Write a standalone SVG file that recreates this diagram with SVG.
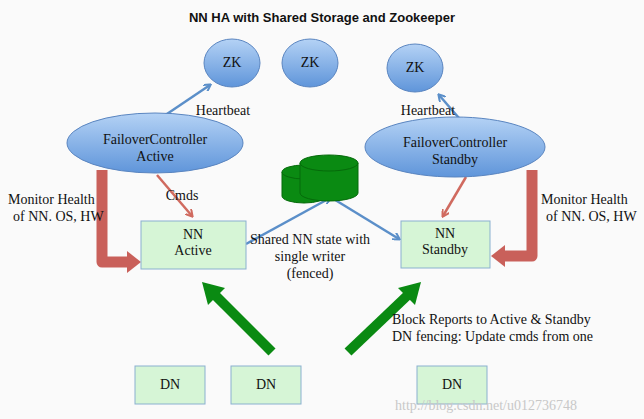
<svg xmlns="http://www.w3.org/2000/svg" width="644" height="419" viewBox="0 0 644 419">
<defs>
<style>
text{font-family:"Liberation Serif","DejaVu Serif",serif;font-size:14px;fill:#111}
.c{text-anchor:middle}
.ell{stroke:#5a85c0;stroke-width:1}
.box{fill:#d6f5d6;stroke:#8ab0cf;stroke-width:1}
.blue{stroke:#5b8fc9;stroke-width:2.5;fill:none}
.red{stroke:#d06a5f;stroke-width:2.5;fill:none}
.thick{stroke:#c9605a;stroke-width:11;fill:none;stroke-linejoin:round}
.green{stroke:#0a8a12;stroke-width:10;fill:none}
</style>
<linearGradient id="g" x1="0" y1="0" x2="0" y2="1"><stop offset="0" stop-color="#b4d2f5"/><stop offset="1" stop-color="#5f95da"/></linearGradient>
<marker id="ab" markerWidth="8" markerHeight="8" refX="6" refY="4" orient="auto" markerUnits="userSpaceOnUse"><path d="M0,0 L7,4 L0,8" fill="none" stroke="#5b8fc9" stroke-width="2"/></marker>
<marker id="ar" markerWidth="8" markerHeight="8" refX="6" refY="4" orient="auto" markerUnits="userSpaceOnUse"><path d="M0,0 L7,4 L0,8" fill="none" stroke="#d06a5f" stroke-width="2"/></marker>
</defs>
<rect width="644" height="419" fill="#fafafa"/>
<text x="322" y="22" class="c" style="font-family:'Liberation Sans',sans-serif;font-weight:bold;font-size:13px">NN HA with Shared Storage and Zookeeper</text>
<g id="connectors">
<line class="blue" x1="158" y1="120" x2="210" y2="85" marker-end="url(#ab)"/>
<line class="blue" x1="465" y1="125" x2="439" y2="95" marker-end="url(#ab)"/>
<line class="red" x1="157" y1="175" x2="192" y2="216" marker-end="url(#ar)"/>
<line class="red" x1="466" y1="177" x2="443" y2="216" marker-end="url(#ar)"/>
<path class="thick" d="M102,170 V262 H128"/>
<polygon points="127,251 141,262 127,273" fill="#c9605a"/>
<path class="thick" d="M532,170 V256 H504"/>
<polygon points="505,245 491,256 505,267" fill="#c9605a"/>
<line class="blue" x1="246" y1="244" x2="330" y2="198" marker-end="url(#ab)"/>
<line class="blue" x1="332" y1="198" x2="399" y2="239" marker-end="url(#ab)" marker-start="url(#ab)"/>
<line class="green" x1="272" y1="352" x2="213" y2="293"/>
<polygon points="202,282 225,288 208,305" fill="#0a8a12"/>
<line class="green" x1="348" y1="352" x2="410" y2="293"/>
<polygon points="421,282 415,305 398,288" fill="#0a8a12"/>
</g>
<g id="zk1"><ellipse class="ell" fill="url(#g)" cx="232" cy="63" rx="28" ry="24"/><text x="232" y="67" class="c">ZK</text></g>
<g id="zk2"><ellipse class="ell" fill="url(#g)" cx="310" cy="63" rx="28" ry="24"/><text x="310" y="67" class="c">ZK</text></g>
<g id="zk3"><ellipse class="ell" fill="url(#g)" cx="415" cy="68" rx="28" ry="24"/><text x="415" y="72" class="c">ZK</text></g>
<g id="fca"><ellipse class="ell" fill="url(#g)" cx="155" cy="143" rx="88" ry="30"/><text x="155" y="144" class="c">FailoverController</text><text x="155" y="161" class="c">Active</text></g>
<g id="fcs"><ellipse class="ell" fill="url(#g)" cx="455" cy="147" rx="90" ry="30"/><text x="455" y="147" class="c">FailoverController</text><text x="455" y="164" class="c">Standby</text></g>
<g id="storage">
<path d="M282,172 V196 A22,7 0 0 0 326,196 V172 Z" fill="#0a8a12" stroke="#056a0a"/>
<ellipse cx="304" cy="172" rx="22" ry="7" fill="#0a8a12" stroke="#056a0a"/>
<path d="M300,163 V193 A29,8 0 0 0 358,193 V163 Z" fill="#0a8a12" stroke="#056a0a"/>
<ellipse cx="329" cy="163" rx="29" ry="8" fill="#0a8a12" stroke="#056a0a"/>
</g>
<g id="nna"><rect class="box" x="141" y="221" width="105" height="48"/><text x="193" y="239" class="c">NN</text><text x="193" y="255" class="c">Active</text></g>
<g id="nns"><rect class="box" x="401" y="221" width="89" height="47"/><text x="445" y="238" class="c">NN</text><text x="445" y="254" class="c">Standby</text></g>
<g id="dn1"><rect class="box" x="135" y="366" width="70" height="38"/><text x="170" y="389" class="c">DN</text></g>
<g id="dn2"><rect class="box" x="231" y="366" width="70" height="38"/><text x="266" y="389" class="c">DN</text></g>
<g id="dn3"><rect class="box" x="417" y="366" width="70" height="38"/><text x="452" y="389" class="c">DN</text></g>
<g id="labels">
<text x="223" y="115" class="c">Heartbeat</text>
<text x="428" y="115" class="c">Heartbeat</text>
<text x="182" y="200" class="c">Cmds</text>
<text x="8" y="204">Monitor Health</text>
<text x="13" y="221">of NN. OS, HW</text>
<text x="541" y="204">Monitor Health</text>
<text x="546" y="221">of NN. OS, HW</text>
<text x="310" y="244" class="c">Shared NN state with</text>
<text x="310" y="261" class="c">single writer</text>
<text x="310" y="278" class="c">(fenced)</text>
<text x="392" y="324">Block Reports to Active &amp; Standby</text>
<text x="392" y="341">DN fencing: Update cmds from one</text>
<text x="395" y="410" style="fill:#c8c8c8;font-size:14px">http://blog.csdn.net/u012736748</text>
</g>
</svg>
